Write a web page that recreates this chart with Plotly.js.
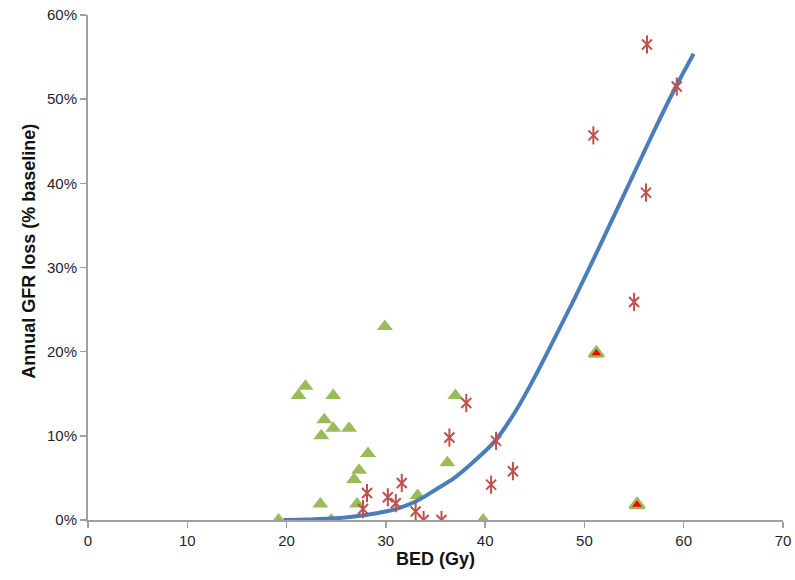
<!DOCTYPE html>
<html>
<head>
<meta charset="utf-8">
<script src="https://cdn.plot.ly/plotly-3.0.1.min.js"></script>
<style>html,body{margin:0;padding:0;background:#fff;}#chart{width:795px;height:580px;}</style>
</head>
<body>
<div id="chart"></div>
<script>
// Green triangles (BED Gy, annual GFR loss %)
var greenX = [19.2, 21.2, 21.9, 24.7, 23.8, 23.5, 24.7, 26.3, 29.9, 28.2, 27.3, 26.8, 23.4, 27.1, 24.5, 33.2, 37.0, 36.2, 39.8];
var greenY = [0, 14.8, 15.9, 14.8, 11.9, 10.0, 10.9, 10.9, 23.0, 7.9, 5.9, 4.8, 1.9, 1.9, 0, 2.9, 14.8, 6.8, 0];
// Red-filled triangles
var redTriX = [51.2, 55.3];
var redTriY = [19.8, 1.8];
// Red asterisks
var starX = [38.1, 36.4, 41.1, 42.8, 40.6, 31.6, 28.1, 30.2, 31.0, 27.7, 33.0, 33.8, 35.6, 56.3, 59.3, 50.9, 56.2, 55.0];
var starY = [13.9, 9.8, 9.4, 5.8, 4.2, 4.4, 3.2, 2.7, 2.0, 1.3, 1.0, 0, 0, 56.5, 51.5, 45.7, 38.9, 25.9];
// Fitted curve
var curveX = [19.7, 22, 25, 28, 30, 31, 33, 35, 37, 39, 41, 43, 45, 47, 49, 51, 53, 55, 57, 59, 61];
var curveY = [0, 0.05, 0.2, 0.6, 1.0, 1.3, 2.2, 3.6, 5.1, 7.1, 9.4, 12.8, 17.0, 21.6, 26.3, 31.2, 36.2, 41.2, 46.2, 51.0, 55.4];

var xTicks = [0, 10, 20, 30, 40, 50, 60, 70];
var yTicks = [0, 10, 20, 30, 40, 50, 60];

var green = '#9BBB59', red = '#C0504D', blue = '#4A7EBB';

var traces = [
  {x: greenX, y: greenY, type: 'scatter', mode: 'markers',
   marker: {symbol: 'triangle-up', size: 14, color: green, line: {width: 0}}},
  {x: curveX, y: curveY, type: 'scatter', mode: 'lines',
   line: {color: blue, width: 4, shape: 'spline', smoothing: 1}},
  {x: starX, y: starY, type: 'scatter', mode: 'markers',
   marker: {symbol: 'x-thin-open', size: 10, color: red, line: {color: red, width: 2}}},
  {x: starX, y: starY, type: 'scatter', mode: 'markers',
   marker: {symbol: 'line-ns-open', size: 13, color: red, line: {color: red, width: 2}}},
  {x: redTriX, y: redTriY, type: 'scatter', mode: 'markers',
   marker: {symbol: 'triangle-up', size: 13, color: '#FF0000', line: {color: green, width: 2.5}}}
];

var fam = 'Liberation Sans, Arial, sans-serif';
var tickFont = {family: fam, size: 15, color: '#1f1f2e'};
var layout = {
  width: 795, height: 580,
  margin: {l: 88, r: 12, t: 15, b: 60},
  paper_bgcolor: '#fff', plot_bgcolor: '#fff',
  showlegend: false,
  xaxis: {
    range: [0, 70], tickvals: xTicks, ticktext: xTicks.map(String),
    showgrid: false, zeroline: false, showline: true, linecolor: '#a0a0a0', linewidth: 2,
    ticks: 'outside', ticklen: 6, tickwidth: 1.5, tickcolor: '#a0a0a0',
    tickfont: tickFont,
    title: {text: '<b>BED (Gy)</b>', font: {family: fam, size: 18, color: '#111'}, standoff: 4}
  },
  yaxis: {
    range: [0, 60], tickvals: yTicks, ticktext: yTicks.map(function(v){return v + '%';}),
    showgrid: false, zeroline: false, showline: true, linecolor: '#a0a0a0', linewidth: 2,
    ticks: 'outside', ticklen: 6, tickwidth: 1.5, tickcolor: '#a0a0a0',
    tickfont: tickFont
  },
  annotations: [{
    text: '<b>Annual GFR loss (% baseline)</b>', textangle: -90,
    xref: 'paper', yref: 'paper', x: -0.085, y: 0.533,
    xanchor: 'center', yanchor: 'middle', showarrow: false,
    font: {family: fam, size: 18, color: '#111'}
  }]
};

Plotly.newPlot('chart', traces, layout, {displayModeBar: false, staticPlot: true});
</script>
</body>
</html>
